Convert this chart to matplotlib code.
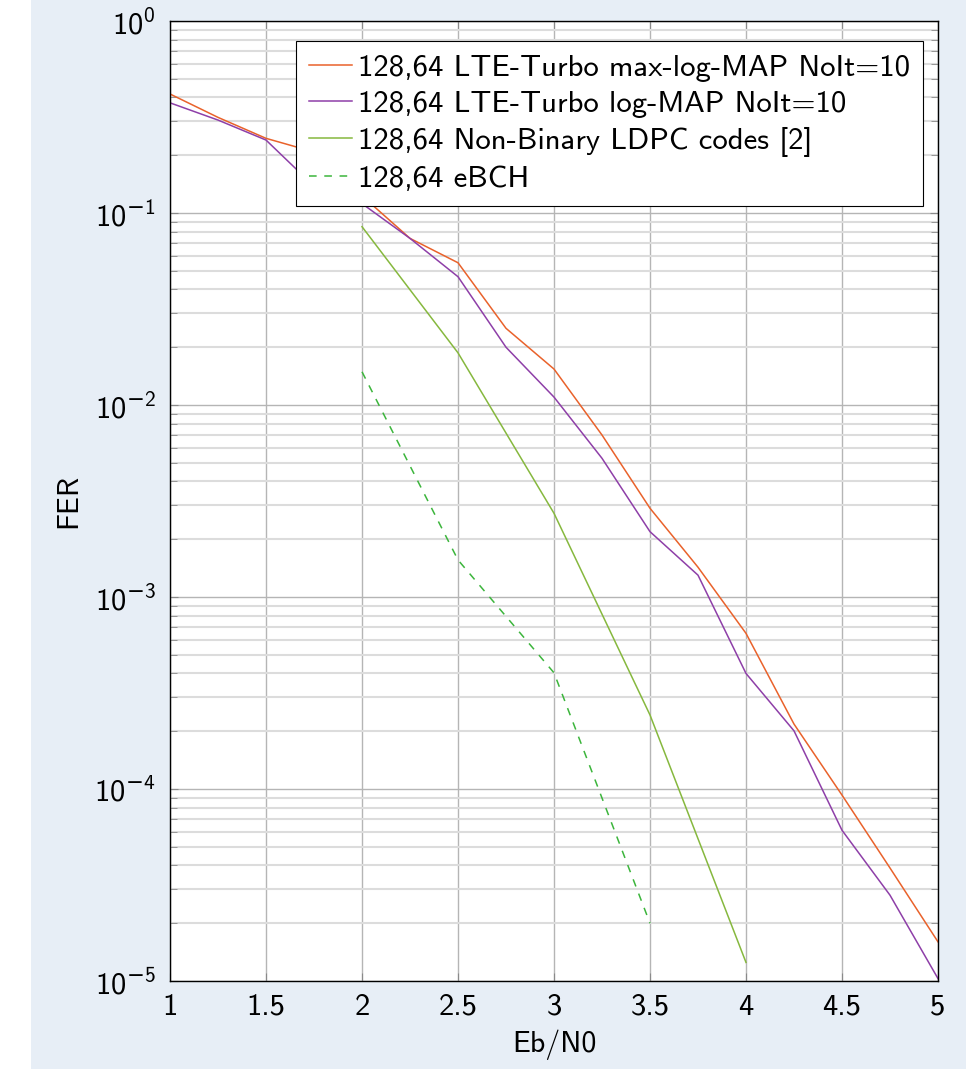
"""
Recreate FER vs Eb/N0 curves for 128,64 codes (log-scale y).
"""

import numpy as np
import matplotlib
matplotlib.use("Agg")
import matplotlib.pyplot as plt
from matplotlib.patches import Rectangle
from matplotlib.ticker import LogLocator, NullFormatter, FuncFormatter

# ── Data ───────────────────────────────────────────────────
ebn0_turbo = [1.0, 1.25, 1.5, 1.75, 2.0, 2.25, 2.5, 2.75, 3.0, 3.25, 3.5,
              3.75, 4.0, 4.25, 4.5, 4.75, 5.0]
fer_maxlog = [0.417, 0.315, 0.245, 0.208, 0.123, 0.0738, 0.0551, 0.0251,
              0.0154, 0.00698, 0.0029, 0.00143, 6.47e-4, 2.18e-4, 9.3e-5,
              3.88e-5, 1.6e-5]
fer_logmap = [0.375, 0.305, 0.240, 0.138, 0.112, 0.0738, 0.0466, 0.0200,
              0.0110, 0.00528, 0.00219, 0.00130, 4.0e-4, 2.01e-4, 6.1e-5,
              2.8e-5, 1.03e-5]

ebn0_ldpc = [2.0, 2.5, 3.0, 3.5, 4.0]
fer_ldpc = [0.0849, 0.0187, 0.00273, 2.43e-4, 1.25e-5]

ebn0_ebch = [2.0, 2.5, 3.0, 3.5]
fer_ebch = [0.0149, 1.56e-3, 4.03e-4, 2.0e-5]

labels = ["128,64 LTE-Turbo max-log-MAP NoIt=10",
          "128,64 LTE-Turbo log-MAP NoIt=10",
          "128,64 Non-Binary LDPC codes [2]",
          "128,64 eBCH"]

x_ticks = [1, 1.5, 2, 2.5, 3, 3.5, 4, 4.5, 5]
x_ticklabels = ["1", "1.5", "2", "2.5", "3", "3.5", "4", "4.5", "5"]


def pow10_label(v, pos):
    # minus sign taken from DejaVu (mapped to \mathbf), digits from cmss10
    e = int(round(np.log10(v)))
    if e < 0:
        return r"$10^{\mathbf{-}%d}$" % (-e)
    return r"$10^{%d}$" % e


# ── Style ──────────────────────────────────────────────────
plt.rcParams["font.family"] = ["cmss10", "DejaVu Sans"]
plt.rcParams["mathtext.fontset"] = "custom"
plt.rcParams["mathtext.rm"] = "cmss10"
plt.rcParams["mathtext.it"] = "cmss10"
plt.rcParams["mathtext.bf"] = "DejaVu Sans"
plt.rcParams["axes.unicode_minus"] = False

fig = plt.figure(figsize=(9.66, 10.69), dpi=100, facecolor="white")
fig.patches.append(Rectangle((31 / 966, 0), 1, 1, transform=fig.transFigure,
                             facecolor="#e7eef6", edgecolor="none", zorder=-10))
ax = fig.add_axes([0.176, 0.0823, 0.795, 0.898])
ax.set_facecolor("white")

ax.plot(ebn0_turbo, fer_maxlog, color="#e9622b", lw=1.1, label=labels[0])
ax.plot(ebn0_turbo, fer_logmap, color="#8e3fa8", lw=1.1, label=labels[1])
ax.plot(ebn0_ldpc, fer_ldpc, color="#86b83e", lw=1.1, label=labels[2])
ax.plot(ebn0_ebch, fer_ebch, color="#3cb53c", lw=1.1, ls=(0, (5, 5)),
        label=labels[3])

ax.set_yscale("log")
ax.set_xlim(1, 5)
ax.set_ylim(1e-5, 1)
ax.set_xticks(x_ticks)
ax.set_xticklabels(x_ticklabels)
ax.yaxis.set_major_locator(LogLocator(base=10, numticks=10))
ax.yaxis.set_major_formatter(FuncFormatter(pow10_label))
ax.yaxis.set_minor_locator(LogLocator(base=10, subs=range(2, 10), numticks=100))
ax.yaxis.set_minor_formatter(NullFormatter())

ax.grid(True, which="major", color="#b5b5b5", lw=1.0)
ax.grid(True, which="minor", axis="y", color="#dcdcdc", lw=1.5)
ax.set_axisbelow(True)

ax.tick_params(which="both", direction="in", top=True, right=True,
               color="#8a8a8a", labelsize=22)
ax.tick_params(axis="x", pad=9)
ax.tick_params(axis="y", pad=10)
ax.tick_params(which="major", length=6)
ax.tick_params(which="minor", length=5)
for s in ax.spines.values():
    s.set_color("black")
    s.set_linewidth(1.0)

ax.set_xlabel("Eb/N0", fontsize=21.5)
ax.set_ylabel("FER", fontsize=21.5)
ax.xaxis.set_label_coords(0.5, -0.051)
ax.yaxis.set_label_coords(-0.1146, 0.5)

leg = ax.legend(loc="upper right", bbox_to_anchor=(0.9805, 0.979), fontsize=22.2,
                frameon=True, fancybox=False, framealpha=1, edgecolor="black",
                handlelength=1.38, handletextpad=0.2, borderpad=0.42,
                labelspacing=0.28, borderaxespad=0)
leg.get_frame().set_linewidth(0.8)

plt.savefig("out.png", dpi=100)
plt.close()
print("Saved: out.png")
